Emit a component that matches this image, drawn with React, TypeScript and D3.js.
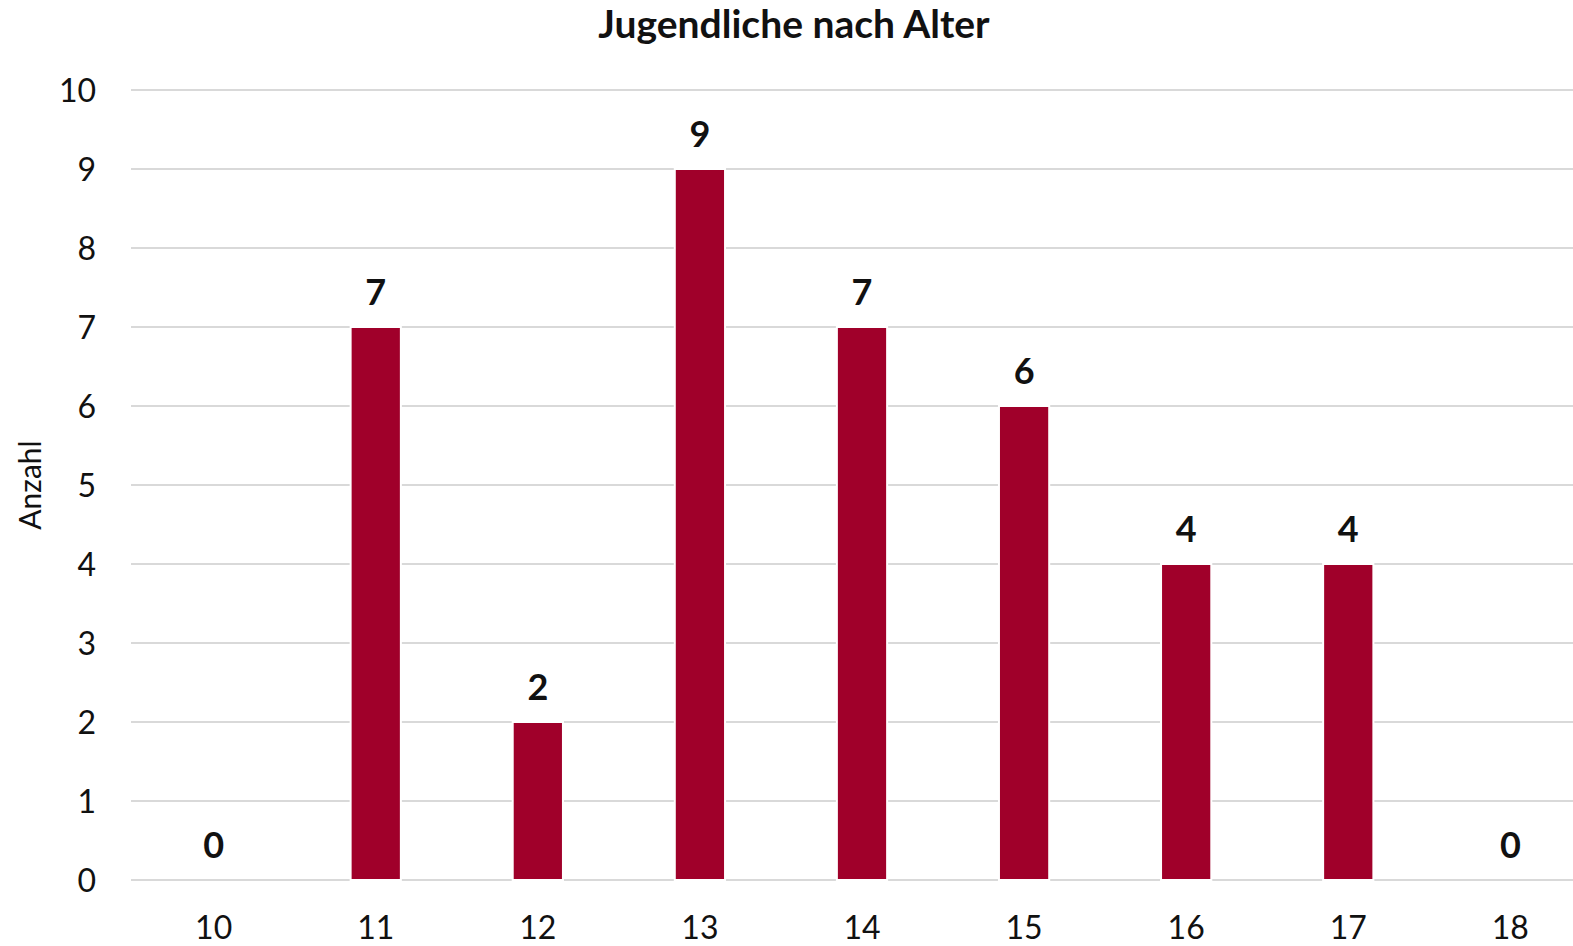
import React, { useRef, useEffect } from 'react';
import * as d3 from 'd3';

// Data
const ages = ['10', '11', '12', '13', '14', '15', '16', '17', '18'];
const counts = [0, 7, 2, 9, 7, 6, 4, 4, 0];
const yTicks = [0, 1, 2, 3, 4, 5, 6, 7, 8, 9, 10];

const title = 'Jugendliche nach Alter';
const yLabel = 'Anzahl';

const App = () => {
  const ref = useRef<SVGSVGElement>(null);

  useEffect(() => {
    const width = 1573;
    const height = 946;
    const margin = { top: 90, right: -20, bottom: 66, left: 131 };
    const font = 'Lato, "Open Sans", sans-serif';

    const svg = d3.select(ref.current)
      .attr('width', width)
      .attr('height', height);
    svg.selectAll('*').remove();

    const x = d3.scaleBand()
      .domain(ages)
      .range([margin.left, width - margin.right])
      .paddingInner(0.69)
      .paddingOuter(0.355);

    const y = d3.scaleLinear()
      .domain([0, 10])
      .range([height - margin.bottom, margin.top]);

    // gridlines
    svg.append('g')
      .selectAll('line')
      .data(yTicks)
      .enter().append('line')
      .attr('x1', margin.left)
      .attr('x2', width)
      .attr('y1', d => y(d))
      .attr('y2', d => y(d))
      .attr('stroke', '#d9d9d9')
      .attr('stroke-width', 2);

    // y tick labels
    svg.append('g')
      .selectAll('text')
      .data(yTicks)
      .enter().append('text')
      .attr('x', 96)
      .attr('y', d => y(d) + 12)
      .attr('text-anchor', 'end')
      .attr('font-family', font)
      .attr('font-size', 32)
      .attr('fill', '#111')
      .text(d => d);

    // bars
    svg.append('g')
      .selectAll('rect')
      .data(counts)
      .enter().append('rect')
      .attr('x', (d, i) => x(ages[i])!)
      .attr('y', d => y(d))
      .attr('width', x.bandwidth())
      .attr('height', d => y(0) - y(d))
      .attr('fill', '#a0002a')
      .attr('stroke', '#fff')
      .attr('stroke-width', 2)
      .style('display', d => (d === 0 ? 'none' : null));

    // value labels
    svg.append('g')
      .selectAll('text')
      .data(counts)
      .enter().append('text')
      .attr('x', (d, i) => x(ages[i])! + x.bandwidth() / 2)
      .attr('y', d => y(d) - 22)
      .attr('text-anchor', 'middle')
      .attr('font-family', font)
      .attr('font-weight', 'bold')
      .attr('font-size', 36)
      .attr('fill', '#111')
      .text(d => d);

    // x tick labels
    svg.append('g')
      .selectAll('text')
      .data(ages)
      .enter().append('text')
      .attr('x', d => x(d)! + x.bandwidth() / 2)
      .attr('y', 939)
      .attr('text-anchor', 'middle')
      .attr('font-family', font)
      .attr('font-size', 32)
      .attr('fill', '#111')
      .text(d => d);

    // title
    svg.append('text')
      .attr('x', 794)
      .attr('y', 38)
      .attr('text-anchor', 'middle')
      .attr('font-family', font)
      .attr('font-weight', 'bold')
      .attr('font-size', 39)
      .attr('fill', '#111')
      .text(title);

    // y axis label
    svg.append('text')
      .attr('transform', `translate(41,485) rotate(-90)`)
      .attr('text-anchor', 'middle')
      .attr('font-family', font)
      .attr('font-size', 30)
      .attr('fill', '#111')
      .text(yLabel);
  }, []);

  return (
    <svg ref={ref} style={{ position: 'absolute', left: 0, top: 0 }}></svg>
  );
};

export default App;
